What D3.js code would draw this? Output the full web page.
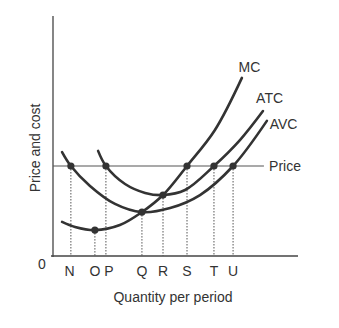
<!DOCTYPE html>
<html><head><meta charset="utf-8">
<script src="https://cdn.jsdelivr.net/npm/d3@7"></script>
<style>body{margin:0;background:#fff}svg{display:block}text{font-family:"Liberation Sans",Arial,sans-serif;fill:#333}</style>
</head><body><svg id="c" width="339" height="328"></svg>
<script>
// Data (quantity, cost) in chart units
const mc  = [[3.7,14.2],[9.0,12.1],[17.1,10.8],[27.3,12.9],[36.3,18.3],[44.9,25.4],[54.7,37.5],[66.1,52.5],[77.1,74.2]];
const atc = [[18.4,43.8],[21.6,37.5],[29.4,30.0],[37.6,26.3],[44.9,25.4],[53.9,27.5],[65.7,37.5],[76.3,48.3],[85.7,60.4]];
const avc = [[3.7,43.3],[7.3,37.5],[15.1,29.2],[25.3,21.7],[36.3,18.3],[47.8,20.0],[60.0,25.4],[73.5,37.5],[87.3,56.3]];
const price = 37.5;
const tickLabels = ["N","O","P","Q","R","S","T","U"];
const tickQty    = [7.3,17.1,21.6,36.3,44.9,54.7,65.7,73.5];
const tickCost   = [37.5,10.8,37.5,18.3,25.4,37.5,37.5,37.5];
const curveNames = ["MC","ATC","AVC"];

const svg = d3.select("#c");
const x = d3.scaleLinear().domain([0,100]).range([53,298]);
const y = d3.scaleLinear().domain([0,100]).range([256,16]);
const ink = "#333";

// axes
svg.append("line").attr("x1",x(0)).attr("x2",x(0)).attr("y1",y(100)).attr("y2",y(0)+1).attr("stroke","#444").attr("stroke-width",1.3);
svg.append("line").attr("x1",x(0)-2).attr("x2",x(100)).attr("y1",y(0)).attr("y2",y(0)).attr("stroke","#444").attr("stroke-width",1.3);

// price line
svg.append("line").attr("x1",x(0)).attr("x2",x(86.1)).attr("y1",y(price)).attr("y2",y(price)).attr("stroke","#555").attr("stroke-width",1.1);
svg.append("text").attr("x",x(88.2)).attr("y",y(price)+5).attr("font-size",14).text("Price");

// dotted drop lines
tickQty.forEach((q,i)=>{
  svg.append("line").attr("x1",x(q)).attr("x2",x(q)).attr("y1",y(tickCost[i])).attr("y2",y(0))
    .attr("stroke","#555").attr("stroke-width",1).attr("stroke-dasharray","1.5,1.5");
});

// curves
const line = d3.line().x(d=>x(d[0])).y(d=>y(d[1])).curve(d3.curveCatmullRom.alpha(0.5));
[mc,atc,avc].forEach(s=>{
  svg.append("path").attr("d",line(s)).attr("fill","none").attr("stroke",ink).attr("stroke-width",2.6).attr("stroke-linecap","round");
});

// dots
tickQty.forEach((q,i)=>{
  svg.append("circle").attr("cx",x(q)).attr("cy",y(tickCost[i])).attr("r",3.6).attr("fill",ink);
});

// curve labels
const labPos = [[80.2,78.8],[88.4,65.8],[94.1,55.0]];
curveNames.forEach((n,i)=>{
  svg.append("text").attr("x",x(labPos[i][0])).attr("y",y(labPos[i][1])).attr("text-anchor","middle").attr("dominant-baseline","central").attr("font-size",14).text(n);
});

// tick letters
tickLabels.forEach((t,i)=>{
  const dx = t==="P" ? 1.2 : (t==="N"?-0.5:0);
  svg.append("text").attr("x",x(tickQty[i]+dx)).attr("y",276).attr("text-anchor","middle").attr("font-size",14).text(t);
});
svg.append("text").attr("x",42).attr("y",269).attr("text-anchor","middle").attr("font-size",14).text("0");

// axis titles
svg.append("text").attr("x",173).attr("y",302).attr("text-anchor","middle").attr("font-size",14).text("Quantity per period");
svg.append("text").attr("transform","translate(35,148) rotate(-90)").attr("text-anchor","middle").attr("dominant-baseline","central").attr("font-size",14).text("Price and cost");
</script></body></html>
